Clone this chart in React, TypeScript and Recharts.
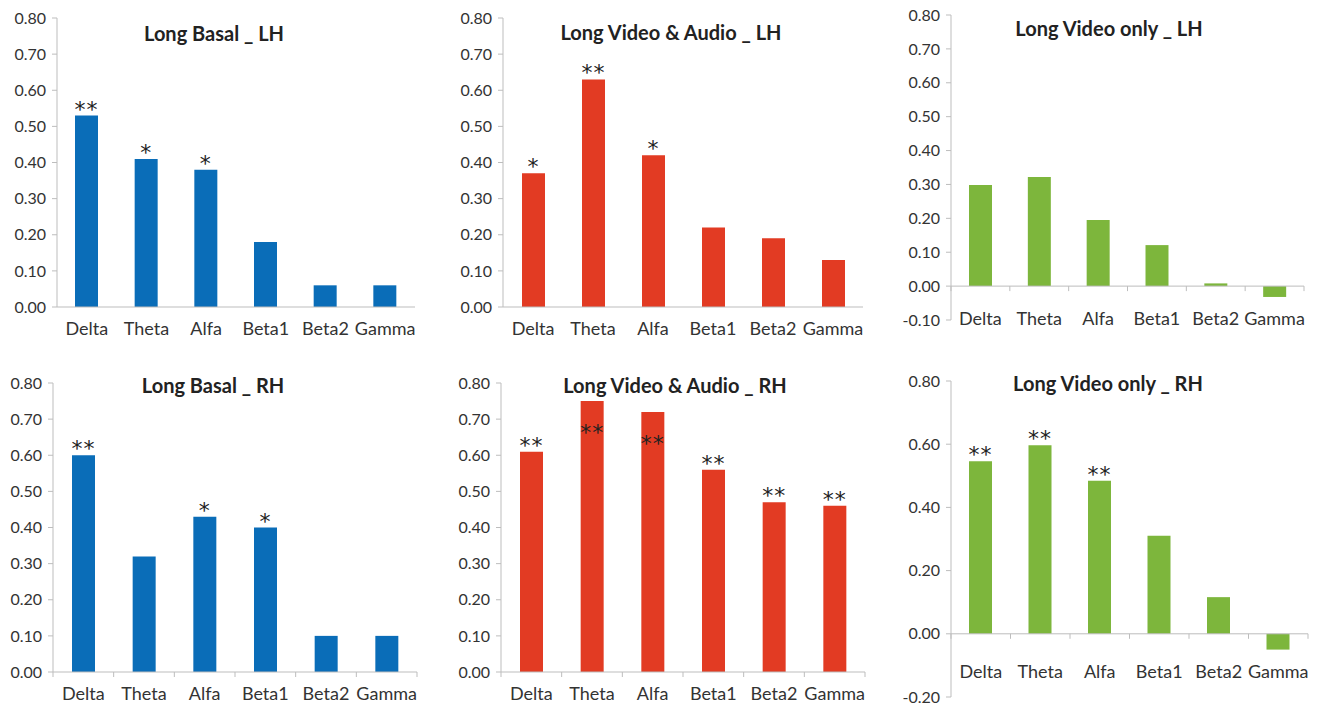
import React from "react";
import { BarChart, Bar, XAxis, YAxis, ReferenceLine, LabelList } from "recharts";

const categories = ["Delta", "Theta", "Alfa", "Beta1", "Beta2", "Gamma"];

const basalLH = [0.53, 0.41, 0.38, 0.18, 0.06, 0.06];
const basalLHStars = ["**", "*", "*", "", "", ""];
const videoAudioLH = [0.37, 0.63, 0.42, 0.22, 0.19, 0.13];
const videoAudioLHStars = ["*", "**", "*", "", "", ""];
const videoOnlyLH = [0.298, 0.322, 0.195, 0.121, 0.008, -0.032];
const videoOnlyLHStars = ["", "", "", "", "", ""];

const basalRH = [0.6, 0.32, 0.43, 0.4, 0.1, 0.1];
const basalRHStars = ["**", "", "*", "*", "", ""];
const videoAudioRH = [0.61, 0.75, 0.72, 0.56, 0.47, 0.46];
const videoAudioRHStars = ["**", "**", "**", "**", "**", "**"];
const videoAudioRHStarsInside = [false, true, true, false, false, false];
const videoOnlyRH = [0.546, 0.597, 0.484, 0.31, 0.116, -0.05];
const videoOnlyRHStars = ["**", "**", "**", "", "", ""];

const ticksTenths = [0, 0.1, 0.2, 0.3, 0.4, 0.5, 0.6, 0.7, 0.8];
const ticksFromMinusTenth = [-0.1, 0, 0.1, 0.2, 0.3, 0.4, 0.5, 0.6, 0.7, 0.8];
const ticksFifths = [-0.2, 0, 0.2, 0.4, 0.6, 0.8];

const BLUE = "#0a6db8";
const RED = "#e23b23";
const GREEN = "#7db63c";
const AXIS = "#bdbdbd";
const TEXT = "#333";
const FONT = "Lato, 'Open Sans', sans-serif";

const panels = [
  { title: "Long Basal _ LH", values: basalLH, stars: basalLHStars, color: BLUE,
    left: 0, top: 0, width: 440, plotLeft: 57, plotRight: 415, plotTop: 18, plotBottom: 307,
    domain: [0, 0.8], ticks: ticksTenths, labelDy: 21, xMarks: false, titleX: 214, titleY: 33 },
  { title: "Long Video & Audio _ LH", values: videoAudioLH, stars: videoAudioLHStars, color: RED,
    left: 440, top: 0, width: 440, plotLeft: 503, plotRight: 863, plotTop: 18, plotBottom: 307,
    domain: [0, 0.8], ticks: ticksTenths, labelDy: 21, xMarks: false, titleX: 671, titleY: 32 },
  { title: "Long Video only _ LH", values: videoOnlyLH, stars: videoOnlyLHStars, color: GREEN,
    left: 880, top: 0, width: 443, plotLeft: 951, plotRight: 1304, plotTop: 15, plotBottom: 320,
    domain: [-0.1, 0.8], ticks: ticksFromMinusTenth, labelDy: -2, xMarks: true, titleX: 1109, titleY: 28 },
  { title: "Long Basal _ RH", values: basalRH, stars: basalRHStars, color: BLUE,
    left: 0, top: 353, width: 440, plotLeft: 53, plotRight: 417, plotTop: 383, plotBottom: 672,
    domain: [0, 0.8], ticks: ticksTenths, labelDy: 21, xMarks: true, titleX: 213, titleY: 385 },
  { title: "Long Video & Audio _ RH", values: videoAudioRH, stars: videoAudioRHStars, inside: videoAudioRHStarsInside, color: RED,
    left: 440, top: 353, width: 440, plotLeft: 501, plotRight: 865, plotTop: 383, plotBottom: 672,
    domain: [0, 0.8], ticks: ticksTenths, labelDy: 21, xMarks: true, titleX: 675, titleY: 385 },
  { title: "Long Video only _ RH", values: videoOnlyRH, stars: videoOnlyRHStars, color: GREEN,
    left: 880, top: 353, width: 443, plotLeft: 951, plotRight: 1308, plotTop: 381, plotBottom: 697,
    domain: [-0.2, 0.8], ticks: ticksFifths, labelDy: -26, xMarks: true, titleX: 1108, titleY: 383 },
];

const X_AXIS_H = 40;
const Y_AXIS_W = 50;

function Panel({ p }: { p: any }) {
  const data = categories.map((c, i) => ({
    name: c,
    value: p.values[i],
    stars: p.stars[i],
    inside: p.inside ? p.inside[i] : false,
  }));
  const height = p.plotBottom - p.top + X_AXIS_H;
  const plotW = p.plotRight - p.plotLeft;
  const plotH = p.plotBottom - p.plotTop;
  const band = plotW / categories.length;
  const zeroUp = ((0 - p.domain[0]) / (p.domain[1] - p.domain[0])) * plotH;
  const hasNeg = p.domain[0] < 0;

  const renderTick = (props: any) => {
    const { x, y, payload, index } = props;
    const zy = y - zeroUp;
    return (
      <g>
        {p.xMarks && (
          <line x1={x - band / 2} x2={x - band / 2} y1={zy} y2={zy + 5} stroke={AXIS} />
        )}
        {p.xMarks && index === categories.length - 1 && (
          <line x1={x + band / 2} x2={x + band / 2} y1={zy} y2={zy + 5} stroke={AXIS} />
        )}
        <text x={x} y={y + p.labelDy} textAnchor="middle" dominantBaseline="central"
          fill={TEXT} fontSize={18} fontFamily={FONT}>
          {payload.value}
        </text>
      </g>
    );
  };

  const renderStars = (props: any) => {
    const { x, y, width, index } = props;
    const d = data[index];
    if (!d || !d.stars) return null;
    return (
      <text x={x + width / 2} y={d.inside ? y + 39 : y + 1} textAnchor="middle"
        fill="#222" fontSize={22} fontFamily="'DejaVu Sans', sans-serif" letterSpacing={1}>
        {d.stars}
      </text>
    );
  };

  return (
    <div style={{ position: "absolute", left: p.left, top: p.top }}>
      <BarChart
        width={p.width}
        height={height}
        data={data}
        barSize={23}
        margin={{
          top: p.plotTop - p.top,
          right: p.left + p.width - p.plotRight,
          bottom: 0,
          left: p.plotLeft - p.left - Y_AXIS_W,
        }}
      >
        <XAxis
          dataKey="name"
          height={X_AXIS_H}
          tickSize={0}
          tickMargin={0}
          axisLine={hasNeg ? false : { stroke: AXIS }}
          tickLine={false}
          tick={renderTick}
          interval={0}
        />
        <YAxis
          width={Y_AXIS_W}
          domain={p.domain}
          ticks={p.ticks}
          interval={0}
          allowDataOverflow
          axisLine={{ stroke: AXIS }}
          tickLine={{ stroke: AXIS }}
          tickSize={5}
          tickMargin={6}
          tickFormatter={(v: number) => v.toFixed(2)}
          tick={{ fill: TEXT, fontSize: 16, fontFamily: FONT }}
        />
        {hasNeg && <ReferenceLine y={0} stroke={AXIS} />}
        <Bar dataKey="value" fill={p.color} isAnimationActive={false}>
          <LabelList dataKey="stars" content={renderStars} />
        </Bar>
      </BarChart>
      <div
        style={{
          position: "absolute",
          left: p.titleX - p.left,
          top: p.titleY - p.top,
          transform: "translate(-50%, -50%)",
          whiteSpace: "nowrap",
          fontFamily: FONT,
          fontWeight: 700,
          fontSize: 20,
          color: "#222",
        }}
      >
        {p.title}
      </div>
    </div>
  );
}

export default function App() {
  return (
    <div
      style={{
        position: "absolute",
        left: 0,
        top: 0,
        width: 1323,
        height: 706,
        overflow: "hidden",
        background: "#fff",
      }}
    >
      {panels.map((p) => (
        <Panel key={p.title} p={p} />
      ))}
    </div>
  );
}
